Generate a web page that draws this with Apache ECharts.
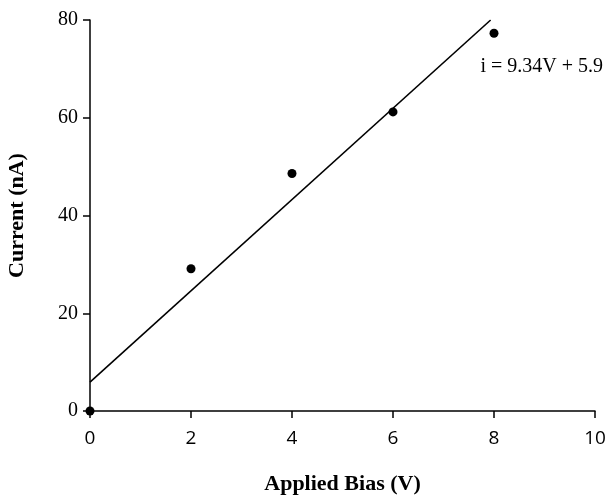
<!DOCTYPE html>
<html>
<head>
<meta charset="utf-8">
<script src="https://cdn.jsdelivr.net/npm/echarts@6/dist/echarts.min.js"></script>
<style>
  html, body { margin: 0; padding: 0; background: #fff; }
  #main { width: 607px; height: 498px; }
</style>
</head>
<body>
<div id="main"></div>
<script>
var dom = document.getElementById("main");
var myChart = echarts.init(dom);

// measured points
var biasV = [0, 2, 4, 6, 8];
var currentNA = [0, 29.1, 48.6, 61.2, 77.3];

// linear fit i = slope*V + intercept
var slope = 9.34;
var intercept = 5.9;
var fitLabel = 'i = 9.34V + 5.9';

var xTicks = [0, 2, 4, 6, 8, 10];
var yTicks = [0, 20, 40, 60, 80];

var points = biasV.map(function (v, i) { return [v, currentNA[i]]; });
var vEnd = (80 - intercept) / slope;
var fitLine = [[0, intercept], [vEnd, slope * vEnd + intercept]];

var serif = '"Liberation Serif", "DejaVu Serif", serif';

var option = {
    animation: false,
    backgroundColor: '#fff',
    grid: { left: 90, right: 12, top: 20, bottom: 87, outerBoundsMode: 'none', containLabel: false },
    xAxis: {
        type: 'value',
        min: 0, max: 10, interval: 2,
        name: 'Applied Bias (V)',
        nameLocation: 'middle',
        nameGap: 62,
        nameTextStyle: { fontFamily: serif, fontWeight: 'bold', fontSize: 22, color: '#000' },
        axisLine: { lineStyle: { color: '#000', width: 1.5 } },
        axisTick: { show: true, length: 7, lineStyle: { color: '#000', width: 1.5 } },
        axisLabel: { color: '#000', fontSize: 19, fontFamily: '"Open Sans", sans-serif', margin: 18 },
        splitLine: { show: false }
    },
    yAxis: {
        type: 'value',
        min: 0, max: 80, interval: 20,
        name: 'Current (nA)',
        nameLocation: 'middle',
        nameGap: 62,
        nameTextStyle: { fontFamily: serif, fontWeight: 'bold', fontSize: 22, color: '#000' },
        axisLine: { show: true, lineStyle: { color: '#000', width: 1.5 } },
        axisTick: { show: true, length: 7, lineStyle: { color: '#000', width: 1.5 } },
        axisLabel: { color: '#000', fontSize: 20, fontFamily: serif, margin: 12 },
        splitLine: { show: false }
    },
    graphic: [{
        type: 'text',
        right: 4,
        top: 57,
        style: { text: fitLabel, font: '20px ' + serif, fill: '#000' }
    }],
    series: [{
        type: 'line',
        data: fitLine,
        showSymbol: false,
        lineStyle: { color: '#000', width: 1.6 },
        z: 2
    }, {
        type: 'scatter',
        data: points,
        symbolSize: 9,
        itemStyle: { color: '#000', opacity: 1 },
        z: 3
    }]
};
myChart.setOption(option, true);
window.addEventListener("resize", function () {
    myChart.resize();
});
</script>
</body>
</html>
